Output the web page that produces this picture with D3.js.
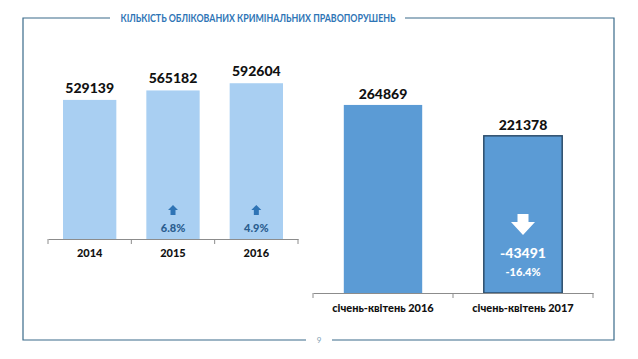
<!DOCTYPE html>
<html>
<head>
<meta charset="utf-8">
<script src="https://cdn.jsdelivr.net/npm/d3@7"></script>
<style>
  body { margin: 0; background: #fff; }
  text { font-family: Lato, "Open Sans", sans-serif; }
</style>
</head>
<body>
<div id="canvas"></div>
<script>
// page size
const width = 638;
const height = 359;

// data
const yearCats = ["2014", "2015", "2016"];
const yearVals = [529139, 565182, 592604];
const yearGrowth = [null, "6.8%", "4.9%"];

const periodCats = ["січень-квітень 2016", "січень-квітень 2017"];
const periodVals = [264869, 221378];
const periodDiff = "-43491";
const periodDiffPct = "-16.4%";

const title = "КІЛЬКІСТЬ ОБЛІКОВАНИХ КРИМІНАЛЬНИХ ПРАВОПОРУШЕНЬ";
const pageNo = "9";

const svg = d3.select("#canvas")
    .append("svg")
    .attr("width", width)
    .attr("height", height);

// frame round the slide
const frameCol = "#3a6b8a";
const fL = 23, fT = 18, fR = 614, fB = 340;
svg.append("path")
    .attr("d", `M110,${fT} H${fL} V${fB} H306 M332,${fB} H${fR} V${fT} H405`)
    .attr("fill", "none")
    .attr("stroke", frameCol)
    .attr("stroke-width", 1.2);

svg.append("text")
    .attr("x", 258).attr("y", fT + 4)
    .attr("text-anchor", "middle")
    .attr("fill", "#2e75b6")
    .attr("font-size", 11.5)
    .attr("font-weight", 700)
    .attr("textLength", 275)
    .attr("lengthAdjust", "spacingAndGlyphs")
    .text(title);

svg.append("text")
    .attr("x", 319).attr("y", fB + 3)
    .attr("text-anchor", "middle")
    .attr("fill", "#7f9fb5")
    .attr("font-size", 8)
    .text(pageNo);

// ---- left chart: years
const x1 = d3.scaleBand().domain(yearCats).range([48, 298]).paddingInner(0.36).paddingOuter(0.18);
const y1 = d3.scaleLinear().domain([0, 700000]).range([239, 55]);

const gL = svg.append("g");
gL.selectAll("rect").data(yearVals).join("rect")
    .attr("x", (d, i) => x1(yearCats[i]))
    .attr("y", d => y1(d))
    .attr("width", x1.bandwidth())
    .attr("height", d => y1(0) - y1(d))
    .attr("fill", "#a9cff2");

gL.selectAll(".val").data(yearVals).join("text")
    .attr("class", "val")
    .attr("x", (d, i) => x1(yearCats[i]) + x1.bandwidth() / 2)
    .attr("y", d => y1(d) - 7)
    .attr("text-anchor", "middle")
    .attr("font-size", 14).attr("font-weight", 900)
    .attr("fill", "#111")
    .text(d => d);

yearGrowth.forEach(function(g, i) {
    if (!g) return;
    const cx = x1(yearCats[i]) + x1.bandwidth() / 2;
    gL.append("path")
        .attr("d", `M${cx},205 L${cx + 5},210 H${cx + 2.5} V215 H${cx - 2.5} V210 H${cx - 5} Z`)
        .attr("fill", "#2f74b5");
    gL.append("text")
        .attr("x", cx).attr("y", 232)
        .attr("text-anchor", "middle")
        .attr("font-size", 11).attr("font-weight", 900)
        .attr("fill", "#2a5d8f")
        .text(g);
});

const axL = d3.axisBottom(x1).tickSize(0).tickPadding(10);
const gAxL = svg.append("g").attr("transform", `translate(0,${y1(0)})`).call(axL);
gAxL.select(".domain").attr("stroke", "#8c8c8c");
gAxL.selectAll("text").attr("font-size", 11).attr("font-weight", 900).attr("fill", "#111")
    .attr("font-family", "Lato, sans-serif");
// separators between categories
const sepL = [48].concat(yearCats.map(c => x1(c) + x1.bandwidth() + x1.step() * x1.paddingInner() / 2));
sepL[sepL.length - 1] = 298;
gAxL.selectAll(".sep").data(sepL).join("line")
    .attr("class", "sep")
    .attr("x1", d => d).attr("x2", d => d)
    .attr("y1", 0).attr("y2", 5)
    .attr("stroke", "#8c8c8c");

// ---- right chart: periods
const x2 = d3.scaleBand().domain(periodCats).range([313, 593]).paddingInner(0.44).paddingOuter(0.22);
const y2 = d3.scaleLinear().domain([0, 300000]).range([293, 80]);

const gR = svg.append("g");
gR.selectAll("rect").data(periodVals).join("rect")
    .attr("x", (d, i) => x2(periodCats[i]))
    .attr("y", d => y2(d))
    .attr("width", x2.bandwidth())
    .attr("height", d => y2(0) - y2(d))
    .attr("fill", "#5b9bd5")
    .attr("stroke", (d, i) => i === 1 ? "#2c4d6b" : "none")
    .attr("stroke-width", 1.5);

gR.selectAll(".val").data(periodVals).join("text")
    .attr("class", "val")
    .attr("x", (d, i) => x2(periodCats[i]) + x2.bandwidth() / 2)
    .attr("y", d => y2(d) - 6)
    .attr("text-anchor", "middle")
    .attr("font-size", 14).attr("font-weight", 900)
    .attr("fill", "#111")
    .text(d => d);

const cx2 = x2(periodCats[1]) + x2.bandwidth() / 2;
gR.append("path")
    .attr("d", `M${cx2},235 L${cx2 + 12},222 H${cx2 + 5.5} V214 H${cx2 - 5.5} V222 H${cx2 - 12} Z`)
    .attr("fill", "#fff");
gR.append("text")
    .attr("x", cx2).attr("y", 258)
    .attr("text-anchor", "middle")
    .attr("font-size", 14).attr("font-weight", 900)
    .attr("fill", "#fff")
    .text(periodDiff);
gR.append("text")
    .attr("x", cx2).attr("y", 276)
    .attr("text-anchor", "middle")
    .attr("font-size", 11).attr("font-weight", 900)
    .attr("fill", "#fff")
    .text(periodDiffPct);

const axR = d3.axisBottom(x2).tickSize(0).tickPadding(11);
const gAxR = svg.append("g").attr("transform", `translate(0,${y2(0)})`).call(axR);
gAxR.select(".domain").attr("stroke", "#8c8c8c");
gAxR.selectAll("text").attr("font-size", 11).attr("font-weight", 900).attr("fill", "#111")
    .attr("font-family", "Lato, sans-serif");
const sepR = [313, x2(periodCats[0]) + x2.bandwidth() + x2.step() * x2.paddingInner() / 2, 593];
gAxR.selectAll(".sep").data(sepR).join("line")
    .attr("class", "sep")
    .attr("x1", d => d).attr("x2", d => d)
    .attr("y1", 0).attr("y2", 5)
    .attr("stroke", "#8c8c8c");
</script>
</body>
</html>
